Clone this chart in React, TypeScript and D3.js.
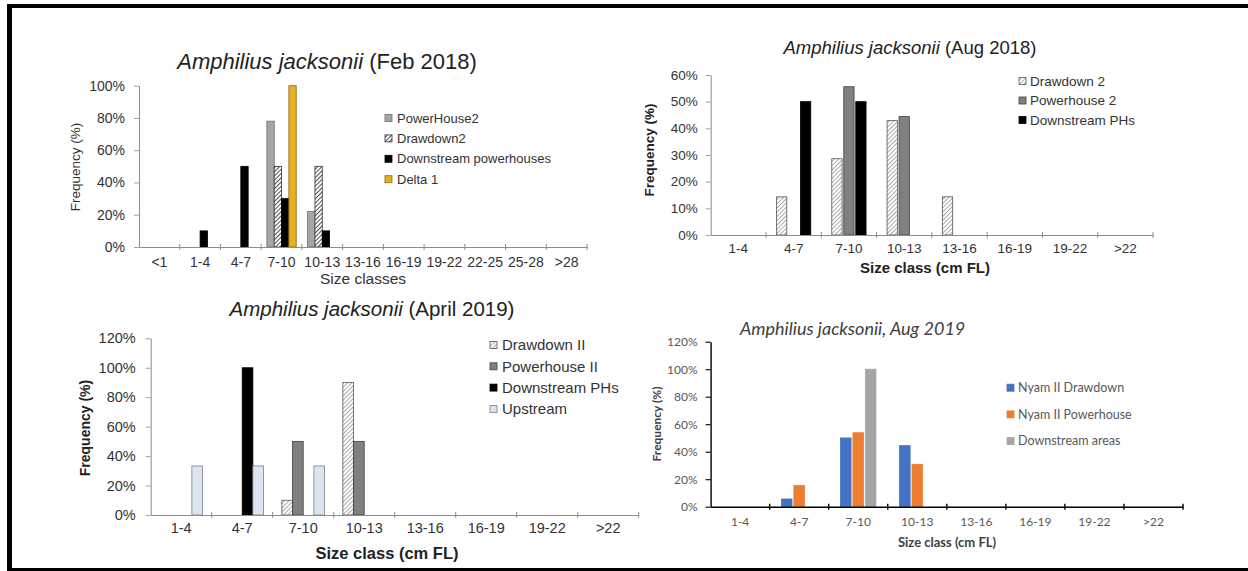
import React, { useEffect, useRef } from 'react';
import * as d3 from 'd3';

// Feb 2018
const febCategories = ['<1', '1-4', '4-7', '7-10', '10-13', '13-16', '16-19', '19-22', '22-25', '25-28', '>28'];
const febPowerHouse2 = [0, 0, 0, 78, 22, 0, 0, 0, 0, 0, 0];
const febDrawdown2 = [0, 0, 0, 50, 50, 0, 0, 0, 0, 0, 0];
const febDownstream = [0, 10, 50, 30, 10, 0, 0, 0, 0, 0, 0];
const febDelta1 = [0, 0, 0, 100, 0, 0, 0, 0, 0, 0, 0];
const febTicks = [0, 20, 40, 60, 80, 100];

// Aug 2018
const aug18Categories = ['1-4', '4-7', '7-10', '10-13', '13-16', '16-19', '19-22', '>22'];
const aug18Drawdown2 = [0, 14.3, 28.6, 42.9, 14.3, 0, 0, 0];
const aug18Powerhouse2 = [0, 0, 55.6, 44.4, 0, 0, 0, 0];
const aug18Downstream = [0, 50, 50, 0, 0, 0, 0, 0];
const aug18Ticks = [0, 10, 20, 30, 40, 50, 60];

// April 2019
const apr19Categories = ['1-4', '4-7', '7-10', '10-13', '13-16', '16-19', '19-22', '>22'];
const apr19Drawdown = [0, 0, 10, 90, 0, 0, 0, 0];
const apr19Powerhouse = [0, 0, 50, 50, 0, 0, 0, 0];
const apr19Downstream = [0, 100, 0, 0, 0, 0, 0, 0];
const apr19Upstream = [33.3, 33.3, 33.3, 0, 0, 0, 0, 0];
const apr19Ticks = [0, 20, 40, 60, 80, 100, 120];

// Aug 2019
const aug19Categories = ['1-4', '4-7', '7-10', '10-13', '13-16', '16-19', '19-22', '>22'];
const aug19Drawdown = [0, 5.6, 50, 44.4, 0, 0, 0, 0];
const aug19Powerhouse = [0, 15.4, 53.8, 30.8, 0, 0, 0, 0];
const aug19Downstream = [0, 0, 100, 0, 0, 0, 0, 0];
const aug19Ticks = [0, 20, 40, 60, 80, 100, 120];

const ARIAL = '"Liberation Sans", Arial, sans-serif';
const CALIBRI = 'Lato, "Open Sans", sans-serif';

function drawPanel(svg: any, p: any) {
  const g = svg.append('g');
  const x = d3.scaleBand().domain(p.categories).range([p.x0, p.x1]);
  const y = d3.scaleLinear().domain([0, p.ticks[p.ticks.length - 1]]).range([p.y1, p.y0]);
  const bw = x.bandwidth();
  const gw = bw * p.groupFrac;
  const xs = d3.scaleBand()
    .domain(p.series.map((s: any) => s.name))
    .range([(bw - gw) / 2, (bw + gw) / 2])
    .paddingInner(p.padInner);

  // bars
  p.series.forEach((s: any) => {
    g.append('g')
      .selectAll('rect')
      .data(p.categories.map((c: string, i: number) => ({ c, v: s.values[i] })).filter((d: any) => d.v > 0))
      .enter().append('rect')
      .attr('x', (d: any) => (x(d.c) as number) + (xs(s.name) as number))
      .attr('y', (d: any) => y(d.v))
      .attr('width', xs.bandwidth())
      .attr('height', (d: any) => y(0) - y(d.v))
      .attr('fill', s.fill)
      .attr('stroke', s.stroke)
      .attr('stroke-width', 0.8);
  });

  // y axis
  const ya = g.append('g')
    .attr('transform', `translate(${p.x0},0)`)
    .call(d3.axisLeft(y).tickValues(p.ticks).tickFormat((d: any) => d + '%').tickSize(5).tickSizeOuter(0).tickPadding(p.yPad));
  ya.select('.domain').attr('stroke', p.axisColor).attr('stroke-width', p.axisWidth);
  ya.selectAll('.tick line').attr('stroke', p.axisColor).attr('stroke-width', p.axisWidth * 0.8);
  ya.selectAll('.tick text').attr('font-family', p.font).attr('font-size', p.tickFont).attr('fill', p.tickColor);

  // x axis
  const xa = g.append('g')
    .attr('transform', `translate(0,${p.y1})`)
    .call(d3.axisBottom(x).tickSize(0).tickSizeOuter(0));
  xa.select('.domain').attr('stroke', p.axisColor).attr('stroke-width', p.axisWidth);
  xa.selectAll('.tick text')
    .attr('y', p.xLabelOffset).attr('dy', '0.35em')
    .attr('font-family', p.font).attr('font-size', p.tickFont).attr('fill', p.tickColor);
  const bounds = p.categories.map((c: string) => x(c) as number).concat([x.range()[1]]);
  g.append('g').selectAll('line').data(bounds.slice(1)).enter().append('line')
    .attr('x1', (d: number) => d).attr('x2', (d: number) => d)
    .attr('y1', p.y1 - 3).attr('y2', p.y1 + 3)
    .attr('stroke', p.axisColor).attr('stroke-width', p.axisWidth);

  // title
  const t = g.append('text')
    .attr('x', p.title.x).attr('y', p.title.y).attr('dy', '0.35em')
    .attr('text-anchor', p.title.anchor)
    .attr('font-family', p.title.font).attr('font-size', p.title.size)
    .attr('fill', p.title.color);
  t.append('tspan').attr('font-style', 'italic').text(p.title.italic);
  t.append('tspan').attr('font-style', p.title.restItalic ? 'italic' : 'normal').text(p.title.rest);

  // axis titles
  g.append('text')
    .attr('transform', `translate(${p.yLabel.x},${p.yLabel.y}) rotate(-90)`)
    .attr('dy', '0.35em').attr('text-anchor', 'middle')
    .attr('font-family', p.font).attr('font-size', p.yLabel.size)
    .attr('font-weight', p.yLabel.weight).attr('fill', p.labelColor)
    .text('Frequency (%)');
  g.append('text')
    .attr('x', p.xLabel.x).attr('y', p.xLabel.y).attr('dy', '0.35em')
    .attr('text-anchor', 'middle')
    .attr('font-family', p.font).attr('font-size', p.xLabel.size)
    .attr('font-weight', p.xLabel.weight).attr('fill', p.labelColor)
    .text(p.xLabel.text);

  // legend
  const lg = g.append('g');
  p.series.forEach((s: any, i: number) => {
    const ly = p.legend.y + i * p.legend.dy;
    lg.append('rect')
      .attr('x', p.legend.x).attr('y', ly - p.legend.sw / 2)
      .attr('width', p.legend.sw).attr('height', p.legend.sw)
      .attr('fill', s.fill).attr('stroke', s.stroke).attr('stroke-width', 0.8);
    lg.append('text')
      .attr('x', p.legend.x + p.legend.sw + p.legend.gap).attr('y', ly).attr('dy', '0.35em')
      .attr('font-family', p.font).attr('font-size', p.legend.size).attr('fill', p.legend.color)
      .text(s.name);
  });
}

const App = () => {
  const ref = useRef<SVGSVGElement>(null);

  useEffect(() => {
    const svg = d3.select(ref.current);
    svg.selectAll('*').remove();

    const defs = svg.append('defs');
    const hatch = (id: string, color: string, w: number, gap: number) => {
      const pt = defs.append('pattern').attr('id', id)
        .attr('patternUnits', 'userSpaceOnUse').attr('width', gap).attr('height', gap)
        .attr('patternTransform', 'rotate(45)');
      pt.append('rect').attr('width', gap).attr('height', gap).attr('fill', '#fff');
      pt.append('line').attr('x1', 0).attr('y1', 0).attr('x2', 0).attr('y2', gap)
        .attr('stroke', color).attr('stroke-width', w);
    };
    hatch('hatchDark', '#222', 1.6, 3);
    hatch('hatchLight', '#666', 1.1, 3);

    svg.append('rect').attr('width', 1248).attr('height', 571).attr('fill', '#fff');

    drawPanel(svg, {
      categories: febCategories,
      series: [
        { name: 'PowerHouse2', values: febPowerHouse2, fill: '#a6a6a6', stroke: '#6b6b6b' },
        { name: 'Drawdown2', values: febDrawdown2, fill: 'url(#hatchDark)', stroke: '#333' },
        { name: 'Downstream powerhouses', values: febDownstream, fill: '#000', stroke: '#000' },
        { name: 'Delta 1', values: febDelta1, fill: '#e6b020', stroke: '#8a6a10' },
      ],
      ticks: febTicks,
      x0: 139, x1: 587, y0: 85.7, y1: 247,
      groupFrac: 0.72, padInner: 0,
      axisColor: '#8c8c8c', axisWidth: 1,
      font: ARIAL, tickFont: 14, tickColor: '#333', labelColor: '#333', yPad: 9, xLabelOffset: 15,
      title: { italic: 'Amphilius jacksonii', rest: ' (Feb 2018)', x: 327, y: 61, size: 22, anchor: 'middle', font: ARIAL, color: '#222' },
      yLabel: { x: 75, y: 167, size: 13.5, weight: 'normal' },
      xLabel: { text: 'Size classes', x: 363, y: 279, size: 15.5, weight: 'normal' },
      legend: { x: 385, y: 118, dy: 20.4, sw: 7, gap: 5, size: 13, color: '#333' },
    });

    drawPanel(svg, {
      categories: aug18Categories,
      series: [
        { name: 'Drawdown 2', values: aug18Drawdown2, fill: 'url(#hatchLight)', stroke: '#555' },
        { name: 'Powerhouse 2', values: aug18Powerhouse2, fill: '#808080', stroke: '#404040' },
        { name: 'Downstream PHs', values: aug18Downstream, fill: '#000', stroke: '#000' },
      ],
      ticks: aug18Ticks,
      x0: 710.7, x1: 1153, y0: 75, y1: 235,
      groupFrac: 0.62, padInner: 0.14,
      axisColor: '#8c8c8c', axisWidth: 1,
      font: ARIAL, tickFont: 13.5, tickColor: '#333', labelColor: '#222', yPad: 8, xLabelOffset: 13,
      title: { italic: 'Amphilius jacksonii', rest: ' (Aug 2018)', x: 910, y: 48, size: 18.5, anchor: 'middle', font: ARIAL, color: '#222' },
      yLabel: { x: 649, y: 150, size: 13.5, weight: 'bold' },
      xLabel: { text: 'Size class (cm FL)', x: 925, y: 268, size: 15, weight: 'bold' },
      legend: { x: 1019, y: 81, dy: 19.5, sw: 7, gap: 4, size: 13.5, color: '#333' },
    });

    drawPanel(svg, {
      categories: apr19Categories,
      series: [
        { name: 'Drawdown II', values: apr19Drawdown, fill: 'url(#hatchLight)', stroke: '#555' },
        { name: 'Powerhouse  II', values: apr19Powerhouse, fill: '#808080', stroke: '#404040' },
        { name: 'Downstream PHs', values: apr19Downstream, fill: '#000', stroke: '#000' },
        { name: 'Upstream', values: apr19Upstream, fill: '#dbe5f1', stroke: '#7f7f7f' },
      ],
      ticks: apr19Ticks,
      x0: 150.7, x1: 638.7, y0: 338.3, y1: 515,
      groupFrac: 0.70, padInner: 0,
      axisColor: '#8c8c8c', axisWidth: 1,
      font: ARIAL, tickFont: 14.5, tickColor: '#333', labelColor: '#222', yPad: 10, xLabelOffset: 13,
      title: { italic: 'Amphilius jacksonii', rest: ' (April 2019)', x: 372, y: 309, size: 20.5, anchor: 'middle', font: ARIAL, color: '#222' },
      yLabel: { x: 85, y: 428, size: 14, weight: 'bold' },
      xLabel: { text: 'Size class (cm FL)', x: 387, y: 553, size: 16.5, weight: 'bold' },
      legend: { x: 490, y: 345, dy: 21.3, sw: 7, gap: 5, size: 15, color: '#333' },
    });

    drawPanel(svg, {
      categories: aug19Categories,
      series: [
        { name: 'Nyam II Drawdown', values: aug19Drawdown, fill: '#4472c4', stroke: '#4472c4' },
        { name: 'Nyam II Powerhouse', values: aug19Powerhouse, fill: '#ed7d31', stroke: '#ed7d31' },
        { name: 'Downstream areas', values: aug19Downstream, fill: '#a5a5a5', stroke: '#a5a5a5' },
      ],
      ticks: aug19Ticks,
      x0: 710.6, x1: 1183, y0: 341.7, y1: 506.7,
      groupFrac: 0.60, padInner: 0.15,
      axisColor: '#000', axisWidth: 1.4,
      font: CALIBRI, tickFont: 12, tickColor: '#595959', labelColor: '#404040', yPad: 8, xLabelOffset: 15,
      title: { italic: 'Amphilius jacksonii, Aug 2019', rest: '', restItalic: true, x: 740, y: 329, size: 18, anchor: 'start', font: CALIBRI, color: '#404040' },
      yLabel: { x: 657, y: 424, size: 12, weight: 'bold' },
      xLabel: { text: 'Size class (cm FL)', x: 947, y: 542, size: 13, weight: 'bold' },
      legend: { x: 1007, y: 387.7, dy: 26.7, sw: 7, gap: 4, size: 12.5, color: '#595959' },
    });

    // frame
    svg.append('rect').attr('x', 7).attr('y', 4).attr('width', 5).attr('height', 567).attr('fill', '#000');
    svg.append('rect').attr('x', 7).attr('y', 4).attr('width', 1241).attr('height', 4).attr('fill', '#000');
    svg.append('rect').attr('x', 7).attr('y', 568).attr('width', 1241).attr('height', 3).attr('fill', '#000');
  }, []);

  return (
    <svg ref={ref} width={1248} height={571} style={{ position: 'absolute', left: 0, top: 0 }} />
  );
};

export default App;
